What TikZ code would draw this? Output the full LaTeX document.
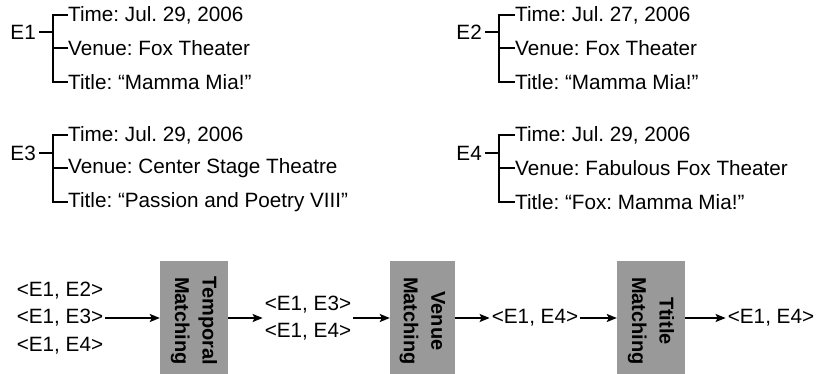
\documentclass[tikz,border=0pt]{standalone}
\usepackage{fontspec}
\setmainfont{Liberation Sans}
\usetikzlibrary{arrows.meta}
\definecolor{boxgray}{RGB}{153,153,153}
\frenchspacing
\begin{document}
\begin{tikzpicture}[x=1pt,y=-1pt,
    txt/.style={anchor=west,inner sep=0pt,font=\fontsize{20.7}{27.5}\selectfont},
    ev/.style={anchor=east,inner sep=0pt,font=\fontsize{20.7}{27.5}\selectfont},
    lst/.style={align=left,inner xsep=2pt,inner ysep=0pt,font=\fontsize{20.7}{27.5}\selectfont},
    mbox/.style={fill=boxgray,minimum width=68pt,minimum height=114pt,inner sep=0pt},
    mtext/.style={rotate=-90,align=center,font=\fontsize{20}{27.5}\selectfont\bfseries},
    br/.style={line width=1.3pt},
    stub/.style={line width=2.3pt},
    arr/.style={line width=1.6pt,-{Stealth[length=10pt,width=8pt,inset=2pt]}}]
  \useasboundingbox (0,0) rectangle (819,374);

  % E1
  \node[ev] (e1) at (36,32) {E1};
  \coordinate (e1b) at (53,32);
  \node[txt] (e1t) at (68,15) {Time: Jul. 29, 2006};
  \node[txt] (e1v) at (68,48) {Venue: Fox Theater};
  \node[txt] (e1n) at (68,82) {Title: “Mamma Mia!”};
  \draw[stub] ([xshift=3pt]e1.east) -- (e1b);
  \draw[br] (e1t.west) -| (e1b) |- (e1n.west);
  \draw[br] (e1v.west) -- (e1v.west -| e1b);

  % E2
  \node[ev] (e2) at (482,32) {E2};
  \coordinate (e2b) at (499,32);
  \node[txt] (e2t) at (515,15) {Time: Jul. 27, 2006};
  \node[txt] (e2v) at (515,48) {Venue: Fox Theater};
  \node[txt] (e2n) at (515,82) {Title: “Mamma Mia!”};
  \draw[stub] ([xshift=3pt]e2.east) -- (e2b);
  \draw[br] (e2t.west) -| (e2b) |- (e2n.west);
  \draw[br] (e2v.west) -- (e2v.west -| e2b);

  % E3
  \node[ev] (e3) at (36,153) {E3};
  \coordinate (e3b) at (53,153);
  \node[txt] (e3t) at (68,135) {Time: Jul. 29, 2006};
  \node[txt] (e3v) at (68,168) {Venue: Center Stage Theatre};
  \node[txt] (e3n) at (68,202) {Title: “Passion and Poetry VIII”};
  \draw[stub] ([xshift=3pt]e3.east) -- (e3b);
  \draw[br] (e3t.west) -| (e3b) |- (e3n.west);
  \draw[br] (e3v.west) -- (e3v.west -| e3b);

  % E4
  \node[ev] (e4) at (482,153) {E4};
  \coordinate (e4b) at (499,153);
  \node[txt] (e4t) at (515,135) {Time: Jul. 29, 2006};
  \node[txt] (e4v) at (515,168) {Venue: Fabulous Fox Theater};
  \node[txt] (e4n) at (515,202) {Title: “Fox: Mamma Mia!”};
  \draw[stub] ([xshift=3pt]e4.east) -- (e4b);
  \draw[br] (e4t.west) -| (e4b) |- (e4n.west);
  \draw[br] (e4v.west) -- (e4v.west -| e4b);

  % matching steps
  \node[lst] (in) at (60,318) {<E1, E2>\\<E1, E3>\\<E1, E4>};
  \node[mbox] (tm) at (194,318) {};
  \node[mtext] at ([yshift=-3pt]tm.center) {Temporal\\Matching};
  \node[lst] (mid) at (308,318) {<E1, E3>\\<E1, E4>};
  \node[mbox,minimum width=65pt] (vm) at (422.5,318) {};
  \node[mtext] at ([yshift=-3pt]vm.center) {Venue\\Matching};
  \node[lst] (one) at (535,318) {<E1, E4>};
  \node[mbox] (ttm) at (651,318) {};
  \node[mtext] at ([yshift=-3pt]ttm.center) {Ttitle\\Matching};
  \node[lst] (out) at (771,318) {<E1, E4>};

  \draw[arr] (in.east) -- (tm.west);
  \draw[arr] (tm.east) -- (mid.west);
  \draw[arr] (mid.east) -- (vm.west);
  \draw[arr] (vm.east) -- (one.west);
  \draw[arr] (one.east) -- (ttm.west);
  \draw[arr] (ttm.east) -- (out.west);
\end{tikzpicture}
\end{document}
